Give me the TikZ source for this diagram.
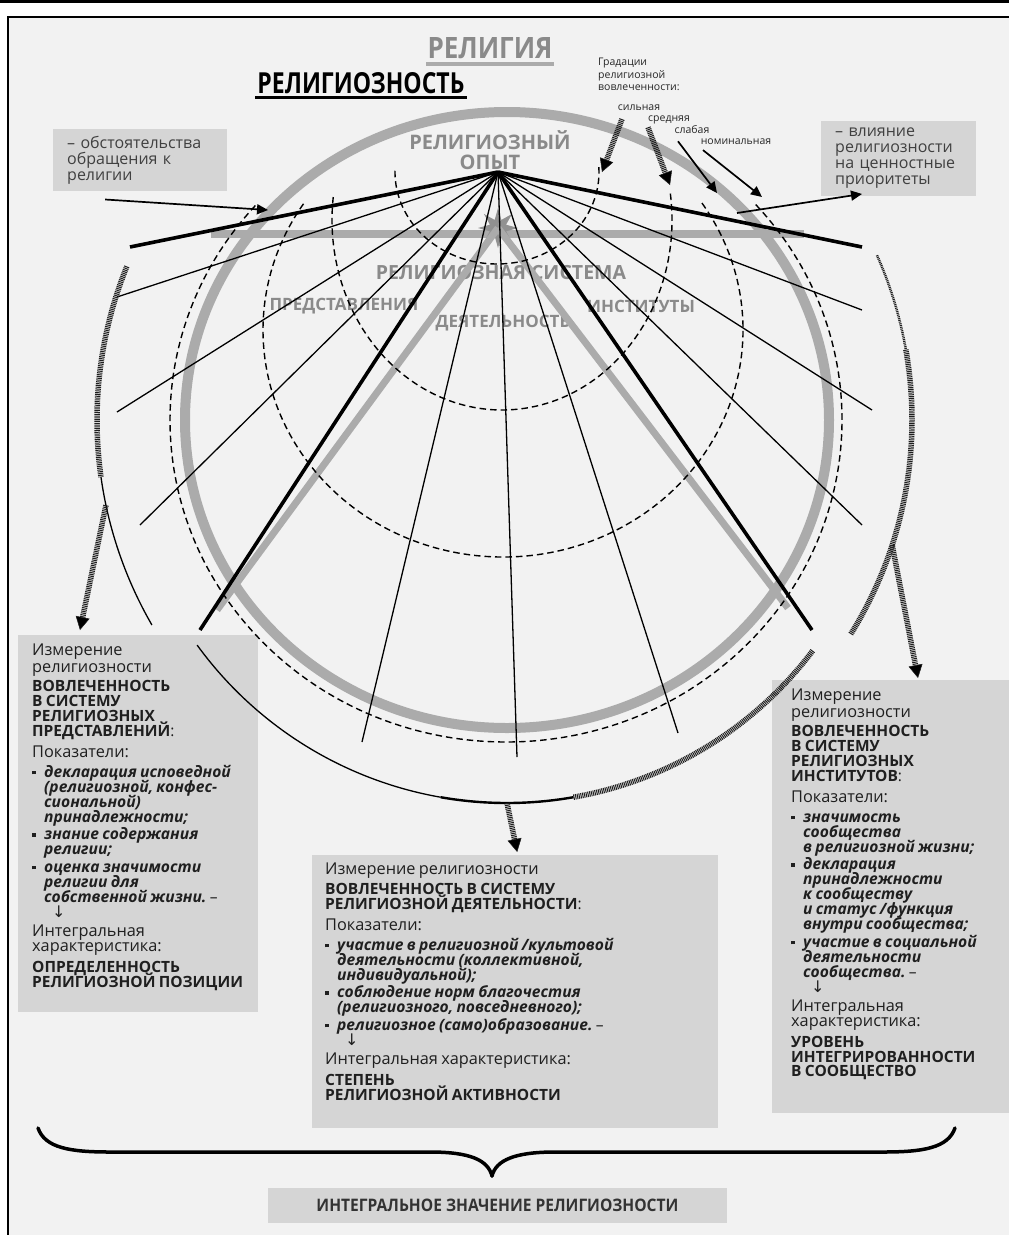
\documentclass[tikz,border=0pt]{standalone}
\usepackage{fontspec}
\setmainfont{Open Sans}
\newfontfamily\arrowfont{DejaVu Sans}
\usepackage{graphicx}
\usetikzlibrary{arrows.meta,shapes.geometric}

\definecolor{panelbg}{HTML}{F2F2F2}
\definecolor{boxfill}{HTML}{D5D5D5}
\definecolor{ringgrey}{HTML}{ABABAB}
\definecolor{textgrey}{HTML}{8A8A8A}
\definecolor{hatchgrey}{HTML}{1E1E1E}

\newcommand\fsz[2]{\fontsize{#1}{#2}\selectfont\lineskiplimit=-30pt\lineskip=0pt\relax}
\newcommand\itm{\par\vspace{2.5pt}\hangindent=12pt\hangafter=1\noindent\makebox[12pt][l]{\rule[3pt]{3.8pt}{3.8pt}}}
\newcommand\downarr[1]{\par{\fsz{16}{15}\noindent\hspace*{#1}{\arrowfont\mdseries\upshape ↓}\par}}

\begin{document}
\begin{tikzpicture}[x=1pt,y=-1pt,
  fanthin/.style={line width=1.3pt},
  fanthick/.style={line width=3.6pt},
  ringline/.style={draw=ringgrey,line width=10pt},
  greyline/.style={draw=ringgrey,line width=7pt},
  gradarc/.style={line width=1.4pt,dash pattern=on 6.5pt off 4pt},
  hatch/.style={draw=hatchgrey,line width=5.5pt,dash pattern=on 1pt off 0.8pt},
  hatcharrow/.style={hatch,-{Triangle[length=13pt,width=14pt,line width=0.5pt,fill=black]}},
  thinarrow/.style={line width=1.7pt,-{Triangle[length=11pt,width=10pt]}},
  bigbox/.style={fill=boxfill,inner sep=0pt,anchor=north west},
  boxtext/.style={anchor=north west,inner sep=0pt,align=left,text=black!88},
  notebox/.style={fill=boxfill,anchor=north west,inner xsep=14pt,inner ysep=7pt,align=left,text=black!75,font=\fsz{16}{16}},
  sysword/.style={text=textgrey,font=\bfseries\fsz{17}{17},inner sep=0pt},
  gradword/.style={font=\fsz{10.5}{12.5},inner sep=0pt,text=black!85}
]
\useasboundingbox (0,0) rectangle (1009,1235);
\fill[panelbg] (8,17) rectangle (1009,1235);
\draw[line width=1.2pt] (8,1235) -- (8,17) -- (1009,17);
\draw[line width=3pt] (0,1.5) -- (1009,1.5);

\node[text=textgrey,inner sep=0pt] (religion) at (490,48) {\resizebox{125pt}{21pt}{\bfseries РЕЛИГИЯ}};
\draw[ringgrey,line width=4pt] ([xshift=-1pt,yshift=-5pt]religion.south west) -- ([xshift=1pt,yshift=-5pt]religion.south east);
\node[inner sep=0pt] (religiosity) at (361,83) {\resizebox{207pt}{21pt}{\bfseries РЕЛИГИОЗНОСТЬ}};
\draw[line width=3pt] ([xshift=-2pt,yshift=-3.5pt]religiosity.south west) -- ([xshift=2pt,yshift=-3.5pt]religiosity.south east);

\node[gradword,anchor=north west,align=left] (gradtitle) at (598,58) {Градации\\религиозной\\вовлеченности:};
\node[gradword] (gstrong) at (639,108) {сильная};
\node[gradword] (gmedium) at (669,120) {средняя};
\node[gradword] (gweak) at (692,130) {слабая};
\node[gradword] (gnominal) at (736,142) {номинальная};

\node[notebox,text width=146pt] (obst) at (53,129) {– обстоятельства\\обращения к\\религии};
\node[notebox,text width=127pt] (influence) at (821,121) {– влияние\\религиозности\\на ценностные\\приоритеты};

\node[bigbox,minimum width=240pt,minimum height=377pt] (predbox) at (18,635) {};
\node[bigbox,minimum width=406pt,minimum height=273pt] (actbox) at (312,855) {};
\node[bigbox,minimum width=237pt,minimum height=433pt] (instbox) at (772,680) {};
\node[fill=boxfill,minimum width=459pt,minimum height=35pt,inner sep=0pt,text=black!80] (integral) at (497.5,1205) {\resizebox{362pt}{12.5pt}{\bfseries ИНТЕГРАЛЬНОЕ ЗНАЧЕНИЕ РЕЛИГИОЗНОСТИ}};

\node[sysword,font=\bfseries\fsz{20}{20},align=center] (experience) at (490,150) {РЕЛИГИОЗНЫЙ\\ОПЫТ};
\node[sysword,font=\bfseries\fsz{19.5}{20}] (system) at (501,273) {РЕЛИГИОЗНАЯ СИСТЕМА};
\node[sysword] (ideas) at (344,306) {ПРЕДСТАВЛЕНИЯ};
\node[sysword] (institutes) at (641,306) {ИНСТИТУТЫ};
\node[sysword] (activity) at (503,323) {ДЕЯТЕЛЬНОСТЬ};

\coordinate (ringc) at (507,420);
\coordinate (apex) at (498,172);
\draw[ringline] (ringc) ellipse[x radius=322,y radius=308];
\coordinate (barl) at (211,234);
\coordinate (barr) at (804,234);
\draw[ringgrey,line width=8pt] (barl) -- (barr);
\node[star,star points=8,star point ratio=2.3,fill=ringgrey!85!black,inner sep=0pt,minimum size=40pt] (sun) at (498,228) {};
\coordinate (tril) at (217,610);
\coordinate (trir) at (788,608);
\draw[greyline] (sun.center) -- (tril);
\draw[greyline] (sun.center) -- (trir);

\draw[gradarc] (497,172) ++(-3:102 and 92) arc[start angle=-3,end angle=183,x radius=102,y radius=92];
\draw[gradarc] (502,220) ++(-8:170 and 190) arc[start angle=-8,end angle=188,x radius=170,y radius=190];
\draw[gradarc] (503,330) ++(-34:240 and 227) arc[start angle=-34,end angle=214,x radius=240,y radius=227];
\draw[gradarc] (506,420) ++(-42:336 and 322) arc[start angle=-42,end angle=222,x radius=336,y radius=322];

\foreach \ex/\ey [count=\i] in {117/297,117/412,140/525,362/742,517/757,678/733,862/525,872/410,862/310}{
  \coordinate (fan\i) at (\ex,\ey);
  \draw[fanthin] (apex) -- (fan\i);
}
\foreach \ex/\ey [count=\i] in {130/247,200/630,812/630,862/247}{
  \coordinate (rib\i) at (\ex,\ey);
  \draw[fanthick] (apex) -- (rib\i);
}

\coordinate (tipstrong) at (602,172);
\coordinate (tipmedium) at (670,185);
\coordinate (tipweak) at (717,193);
\coordinate (tipnominal) at (762,197);
\draw[hatcharrow] ([xshift=-17pt,yshift=-8pt]gstrong.south) -- (tipstrong);
\draw[hatcharrow] ([xshift=-21pt,yshift=-3pt]gmedium.south) -- (tipmedium);
\draw[thinarrow] ([xshift=-14pt,yshift=-7pt]gweak.south) -- (tipweak);
\draw[thinarrow] ([xshift=-33pt,yshift=-5pt]gnominal.south) -- (tipnominal);

\coordinate (ringhitl) at (268,210);
\coordinate (ringhitr) at (737,213);
\draw[thinarrow] ([xshift=-35pt,yshift=-8pt]obst.south) -- (ringhitl);
\draw[thinarrow] (ringhitr) -- ([xshift=41pt,yshift=2pt]influence.south west);

\draw[hatch] (ringc) ++(202:410) arc[start angle=202,end angle=172,radius=410];
\draw[line width=1.3pt] (ringc) ++(172:410) arc[start angle=172,end angle=150,radius=410];
\path (ringc) ++(168:410) coordinate (lsplit);
\draw[hatcharrow] (lsplit) -- ([xshift=62pt,yshift=5pt]predbox.north west);

\draw[line width=1.3pt] (ringc) ++(144:383) arc[start angle=144,end angle=100,radius=383];
\draw[line width=2.4pt] (ringc) ++(100:383) arc[start angle=100,end angle=80,radius=383];
\draw[hatch] (ringc) ++(80:383) arc[start angle=80,end angle=37,radius=383];
\path (ringc) ++(90:383) coordinate (bsplit);
\draw[hatcharrow] (bsplit) -- ([xshift=2pt,yshift=3pt]actbox.north);

\draw[hatch,line width=2.5pt] (ringc) ++(-24:405) arc[start angle=-24,end angle=-10,radius=405];
\draw[hatch] (ringc) ++(-10:405) arc[start angle=-10,end angle=32,radius=405];
\path (ringc) ++(18:405) coordinate (rsplit);
\draw[hatcharrow] (rsplit) -- ([xshift=146pt,yshift=2pt]instbox.north west);

\coordinate (bracel) at (38,1128);
\coordinate (bracer) at (955,1128);
\coordinate (bracetip) at (492,1176);
\draw[line width=3.5pt,line cap=round] (bracel) .. controls (45,1148) and (70,1152) .. (110,1152) -- (430,1152) .. controls (470,1152) and (488,1160) .. (bracetip);
\draw[line width=3.5pt,line cap=round] (bracer) .. controls (948,1148) and (923,1152) .. (883,1152) -- (555,1152) .. controls (515,1152) and (496,1160) .. (bracetip);

\node[boxtext,text width=226pt] (predtext) at ([xshift=14pt,yshift=-9pt]predbox.north west) {%
\fsz{16.3}{17}Измерение\\религиозности\par\vspace{4pt}
{\fsz{15.5}{15}\bfseries ВОВЛЕЧЕННОСТЬ\\В СИСТЕМУ\\РЕЛИГИОЗНЫХ\\ПРЕДСТАВЛЕНИЙ\mdseries:\par}\vspace{4pt}
Показатели:\par\vspace{2pt}
{\fsz{15.6}{15}\bfseries\itshape
\itm декларация исповедной\newline(религиозной, конфес-\newline сиональной)\newline принадлежности;
\itm знание содержания\newline религии;
\itm оценка значимости\newline религии для\newline собственной жизни.\mdseries\upshape\ –\par}
\downarr{20pt}\vspace{4pt}
{\fsz{16.3}{15}Интегральная\\характеристика:\par}\vspace{7pt}
{\fsz{15.5}{14.5}\bfseries ОПРЕДЕЛЕННОСТЬ\\РЕЛИГИОЗНОЙ ПОЗИЦИИ\par}};

\node[boxtext,text width=392pt] (acttext) at ([xshift=13pt,yshift=-8pt]actbox.north west) {%
\fsz{16.3}{17}Измерение религиозности\par\vspace{5pt}
{\fsz{15.5}{15}\bfseries ВОВЛЕЧЕННОСТЬ В СИСТЕМУ\\РЕЛИГИОЗНОЙ ДЕЯТЕЛЬНОСТИ\mdseries:\par}\vspace{4pt}
Показатели:\par\vspace{2pt}
{\fsz{15.6}{15}\bfseries\itshape
\itm участие в религиозной /культовой\newline деятельности (коллективной,\newline индивидуальной);
\itm соблюдение норм благочестия\newline(религиозного, повседневного);
\itm религиозное (само)образование.\mdseries\upshape\ –\par}
\downarr{20pt}\vspace{4pt}
{\fsz{16.3}{15}Интегральная характеристика:\par}\vspace{7pt}
{\fsz{15.5}{14.5}\bfseries СТЕПЕНЬ\\РЕЛИГИОЗНОЙ АКТИВНОСТИ\par}};

\node[boxtext,text width=216pt] (insttext) at ([xshift=19pt,yshift=-9pt]instbox.north west) {%
\fsz{16.3}{17}Измерение\\религиозности\par\vspace{4pt}
{\fsz{15.5}{15}\bfseries ВОВЛЕЧЕННОСТЬ\\В СИСТЕМУ\\РЕЛИГИОЗНЫХ\\ИНСТИТУТОВ\mdseries:\par}\vspace{4pt}
Показатели:\par\vspace{2pt}
{\fsz{15.6}{15}\bfseries\itshape
\itm значимость\newline сообщества\newline в религиозной жизни;
\itm декларация\newline принадлежности\newline к сообществу\newline и статус /функция\newline внутри сообщества;
\itm участие в социальной\newline деятельности\newline сообщества.\mdseries\upshape\ –\par}
\downarr{20pt}\vspace{4pt}
{\fsz{16.3}{15}Интегральная\\характеристика:\par}\vspace{7pt}
{\fsz{15.5}{14.5}\bfseries УРОВЕНЬ\\ИНТЕГРИРОВАННОСТИ\\В СООБЩЕСТВО\par}};
\end{tikzpicture}
\end{document}
